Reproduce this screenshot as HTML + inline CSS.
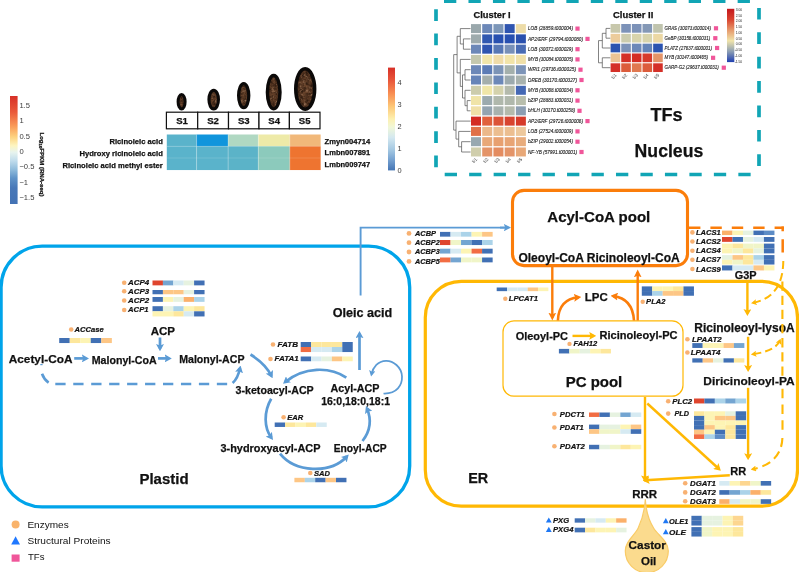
<!DOCTYPE html>
<html><head><meta charset="utf-8"><title>Castor oil biosynthesis pathway</title>
<style>
html,body{margin:0;padding:0;background:#fff;}
body{width:799px;height:572px;overflow:hidden;}
svg{display:block;font-family:"Liberation Sans",Arial,Helvetica,sans-serif;}
.b{font-weight:bold;fill:#111;stroke:#111;stroke-width:0.25px;}
.g{font-weight:bold;font-style:italic;fill:#111;stroke:#111;stroke-width:0.2px;}
.t{font-style:italic;fill:#222;stroke:#222;stroke-width:0.12px;}
.k{fill:#3c3c3c;}
</style></head><body>
<svg width="799" height="572" viewBox="0 0 799 572">
<defs>
<linearGradient id="cbL" x1="0" y1="0" x2="0" y2="1">
<stop offset="0" stop-color="#d73027"/><stop offset="0.15" stop-color="#ea5a3a"/><stop offset="0.28" stop-color="#fa9b58"/><stop offset="0.38" stop-color="#fdd380"/><stop offset="0.46" stop-color="#fdf5c0"/><stop offset="0.52" stop-color="#e8f4ee"/><stop offset="0.6" stop-color="#c0dcec"/><stop offset="0.68" stop-color="#90bcdc"/><stop offset="0.76" stop-color="#5f93c8"/><stop offset="0.85" stop-color="#4878b8"/><stop offset="1" stop-color="#4372b4"/>
</linearGradient>
<linearGradient id="cbR" x1="0" y1="0" x2="0" y2="1">
<stop offset="0" stop-color="#d73027"/><stop offset="0.12" stop-color="#e8553a"/><stop offset="0.25" stop-color="#f88d52"/><stop offset="0.38" stop-color="#fdc878"/><stop offset="0.5" stop-color="#fdf0b0"/><stop offset="0.58" stop-color="#f0f7d8"/><stop offset="0.68" stop-color="#d4e8f0"/><stop offset="0.8" stop-color="#a4c8e2"/><stop offset="0.9" stop-color="#74a0d0"/><stop offset="1" stop-color="#4575b4"/>
</linearGradient>
<linearGradient id="cbN" x1="0" y1="0" x2="0" y2="1">
<stop offset="0" stop-color="#c4161c"/><stop offset="0.2" stop-color="#d9432f"/><stop offset="0.4" stop-color="#e69a6c"/><stop offset="0.6" stop-color="#f0e4aa"/><stop offset="0.8" stop-color="#8c9eb4"/><stop offset="1" stop-color="#1f3fb0"/>
</linearGradient>
<radialGradient id="seed" cx="0.5" cy="0.5" r="0.6">
<stop offset="0" stop-color="#6a452c"/><stop offset="0.75" stop-color="#553521"/><stop offset="1" stop-color="#2a180d"/>
</radialGradient>
<filter id="tex" x="0" y="0" width="1" height="1" color-interpolation-filters="sRGB">
<feTurbulence type="fractalNoise" baseFrequency="0.32" numOctaves="3" seed="7" result="n"/>
<feColorMatrix in="n" type="matrix" values="0 0 0 0 0.16  0 0 0 0 0.09  0 0 0 0 0.05  2.4 0 0 0 -0.95" result="dk"/>
<feColorMatrix in="n" type="matrix" values="0 0 0 0 0.62  0 0 0 0 0.47  0 0 0 0 0.36  0 2.6 0 0 -1.45" result="lt"/>
<feComposite in="dk" in2="SourceGraphic" operator="in" result="dkc"/>
<feComposite in="lt" in2="SourceGraphic" operator="in" result="ltc"/>
<feMerge><feMergeNode in="SourceGraphic"/><feMergeNode in="dkc"/><feMergeNode in="ltc"/></feMerge>
</filter>

<marker id="mb" markerUnits="userSpaceOnUse" viewBox="0 0 7.2 8" refX="4.5" refY="4.0" markerWidth="7.2" markerHeight="8" orient="auto-start-reverse"><path d="M0 0L7.2 4.0L0 8L1.44 4.0Z" fill="#5b9bd5"/></marker>
<marker id="mbs" markerUnits="userSpaceOnUse" viewBox="0 0 6 6.4" refX="3.8" refY="3.2" markerWidth="6" markerHeight="6.4" orient="auto-start-reverse"><path d="M0 0L6 3.2L0 6.4L1.20 3.2Z" fill="#5b9bd5"/></marker>
<marker id="mbl" markerUnits="userSpaceOnUse" viewBox="0 0 7.2 7.4" refX="4.6" refY="3.7" markerWidth="7.2" markerHeight="7.4" orient="auto-start-reverse"><path d="M0 0L7.2 3.7L0 7.4L1.44 3.7Z" fill="#5b9bd5"/></marker>
<marker id="mo" markerUnits="userSpaceOnUse" viewBox="0 0 7.8 7.8" refX="5" refY="3.9" markerWidth="7.8" markerHeight="7.8" orient="auto-start-reverse"><path d="M0 0L7.8 3.9L0 7.8L1.56 3.9Z" fill="#fb7d0a"/></marker>
<marker id="mo2" markerUnits="userSpaceOnUse" viewBox="0 0 7.4 8" refX="4.6" refY="4.0" markerWidth="7.4" markerHeight="8" orient="auto-start-reverse"><path d="M0 0L7.4 4.0L0 8L1.48 4.0Z" fill="#fb7d0a"/></marker>
<marker id="my" markerUnits="userSpaceOnUse" viewBox="0 0 6.9 7.9" refX="4.4" refY="3.95" markerWidth="6.9" markerHeight="7.9" orient="auto-start-reverse"><path d="M0 0L6.9 3.95L0 7.9L1.38 3.95Z" fill="#ffb804"/></marker>
<marker id="mys" markerUnits="userSpaceOnUse" viewBox="0 0 5.6 6" refX="3.6" refY="3.0" markerWidth="5.6" markerHeight="6" orient="auto-start-reverse"><path d="M0 0L5.6 3.0L0 6L1.12 3.0Z" fill="#ffb804"/></marker>
</defs>
<rect width="799" height="572" fill="#ffffff"/>

<rect x="10" y="96" width="7.6" height="108" fill="url(#cbL)"/>
<text class="k" x="19.4" y="107.6" font-size="7.6">1.5</text>
<text class="k" x="19.4" y="123.1" font-size="7.6">1</text>
<text class="k" x="19.4" y="138.6" font-size="7.6">0.5</text>
<text class="k" x="19.4" y="153.6" font-size="7.6">0</text>
<text class="k" x="19.4" y="169.1" font-size="7.6">−0.5</text>
<text class="k" x="19.4" y="184.6" font-size="7.6">−1</text>
<text class="k" x="19.4" y="199.6" font-size="7.6">−1.5</text>
<text class="b" transform="translate(40.3,132.5) rotate(90)" font-size="4.9" textLength="64" lengthAdjust="spacingAndGlyphs" style="fill:#222">Log<tspan font-size="3.4" dy="1.2">10</tspan><tspan dy="-1.2">FPKM (RNA-seq)</tspan></text>
<ellipse cx="181.6" cy="101.7" rx="3.50" ry="7.20" fill="url(#seed)" filter="url(#tex)"/>
<ellipse cx="181.6" cy="101.7" rx="3.50" ry="7.20" fill="none" stroke="#0b0908" stroke-width="3.0"/>
<ellipse cx="213.7" cy="99.6" rx="4.75" ry="9.30" fill="url(#seed)" filter="url(#tex)"/>
<ellipse cx="213.7" cy="99.6" rx="4.75" ry="9.30" fill="none" stroke="#0b0908" stroke-width="3.1"/>
<ellipse cx="243.7" cy="95.6" rx="5.10" ry="12.10" fill="url(#seed)" filter="url(#tex)"/>
<ellipse cx="243.7" cy="95.6" rx="5.10" ry="12.10" fill="none" stroke="#0b0908" stroke-width="3.2"/>
<ellipse cx="273.7" cy="92.2" rx="6.30" ry="16.70" fill="url(#seed)" filter="url(#tex)"/>
<ellipse cx="273.7" cy="92.2" rx="6.30" ry="16.70" fill="none" stroke="#0b0908" stroke-width="3.4"/>
<ellipse cx="305.2" cy="89" rx="9.40" ry="20.20" fill="url(#seed)" filter="url(#tex)"/>
<ellipse cx="305.2" cy="89" rx="9.40" ry="20.20" fill="none" stroke="#0b0908" stroke-width="3.6"/>
<g fill="#fff" stroke="#111" stroke-width="1.2">
<rect x="166.4" y="112.2" width="31.3" height="16.6"/>
<rect x="197.7" y="112.2" width="30.8" height="16.6"/>
<rect x="228.5" y="112.2" width="30.5" height="16.6"/>
<rect x="259" y="112.2" width="30.4" height="16.6"/>
<rect x="289.4" y="112.2" width="30.6" height="16.6"/>
</g>
<text class="b" x="182.1" y="124.1" font-size="9.6" text-anchor="middle">S1</text>
<text class="b" x="213.1" y="124.1" font-size="9.6" text-anchor="middle">S2</text>
<text class="b" x="243.8" y="124.1" font-size="9.6" text-anchor="middle">S3</text>
<text class="b" x="274.2" y="124.1" font-size="9.6" text-anchor="middle">S4</text>
<text class="b" x="304.7" y="124.1" font-size="9.6" text-anchor="middle">S5</text>
<rect x="166.8" y="134.5" width="29.85" height="11.80" fill="#5ab3cb"/>
<rect x="196.6" y="134.5" width="31.55" height="11.80" fill="#1095dc"/>
<rect x="228.1" y="134.5" width="30.25" height="11.80" fill="#b0d8c2"/>
<rect x="258.3" y="134.5" width="31.55" height="11.80" fill="#eeeaa8"/>
<rect x="289.8" y="134.5" width="30.85" height="11.80" fill="#f1b87a"/>
<rect x="166.8" y="146.25" width="29.85" height="11.80" fill="#5ab3cb"/>
<rect x="196.6" y="146.25" width="31.55" height="11.80" fill="#5ab3cb"/>
<rect x="228.1" y="146.25" width="30.25" height="11.80" fill="#5bb3c8"/>
<rect x="258.3" y="146.25" width="31.55" height="11.80" fill="#8ccabc"/>
<rect x="289.8" y="146.25" width="30.85" height="11.80" fill="#ee7430"/>
<rect x="166.8" y="158" width="29.85" height="12.05" fill="#5ab3cb"/>
<rect x="196.6" y="158" width="31.55" height="12.05" fill="#5ab3cb"/>
<rect x="228.1" y="158" width="30.25" height="12.05" fill="#5bb3c8"/>
<rect x="258.3" y="158" width="31.55" height="12.05" fill="#8ccabc"/>
<rect x="289.8" y="158" width="30.85" height="12.05" fill="#ee7430"/>
<g stroke="#ffffff" stroke-opacity="0.4" stroke-width="0.7">
<line x1="166.8" x2="320.6" y1="146.25" y2="146.25" stroke-opacity="0.2"/>
<line x1="166.8" x2="320.6" y1="158" y2="158" stroke-opacity="0.2"/>
<line x1="196.6" x2="196.6" y1="134.5" y2="170"/>
<line x1="228.1" x2="228.1" y1="134.5" y2="170"/>
<line x1="258.3" x2="258.3" y1="134.5" y2="170"/>
<line x1="289.8" x2="289.8" y1="134.5" y2="170"/>
</g>
<text class="b" x="109.5" y="144.0" font-size="7.7" textLength="53.3" lengthAdjust="spacingAndGlyphs">Ricinoleic acid</text>
<text class="b" x="79.5" y="156.0" font-size="7.7" textLength="83.3" lengthAdjust="spacingAndGlyphs">Hydroxy ricinoleic acid</text>
<text class="b" x="62.5" y="167.8" font-size="7.7" textLength="100.3" lengthAdjust="spacingAndGlyphs">Ricinoleic acid methyl ester</text>
<text class="b" x="324.6" y="144.2" font-size="7.5" textLength="45.6" lengthAdjust="spacingAndGlyphs">Zmyn004714</text>
<text class="b" x="324.6" y="155.2" font-size="7.5" textLength="45.6" lengthAdjust="spacingAndGlyphs">Lmbn007891</text>
<text class="b" x="324.6" y="167.2" font-size="7.5" textLength="45.6" lengthAdjust="spacingAndGlyphs">Lmbn009747</text>
<rect x="388" y="67.6" width="7" height="102.8" fill="url(#cbR)"/>
<text class="k" x="397.5" y="84.5" font-size="7.4">4</text>
<text class="k" x="397.5" y="107.0" font-size="7.4">3</text>
<text class="k" x="397.5" y="129.29999999999998" font-size="7.4">2</text>
<text class="k" x="397.5" y="151.29999999999998" font-size="7.4">1</text>
<text class="k" x="397.5" y="173.29999999999998" font-size="7.4">0</text>
<g stroke="#11a5b5" stroke-width="3.5" fill="none">
<path d="M444 1.2H760" stroke-dasharray="12.3 12.17"/>
<path d="M444.7 174.5H760" stroke-dasharray="12.3 12.17"/>
<path d="M436 9.2V170" stroke-dasharray="11.7 12.7" stroke-width="3.7"/>
<path d="M759 7.9V170" stroke-dasharray="11.7 12.7" stroke-width="3.7"/>
</g>
<text class="b" x="473.5" y="18.4" font-size="9.2" textLength="37.2" lengthAdjust="spacingAndGlyphs">Cluster I</text>
<text class="b" x="613" y="18.4" font-size="9.2" textLength="40.3" lengthAdjust="spacingAndGlyphs">Cluster II</text>
<text class="b" x="650.4" y="121.2" font-size="18.4" textLength="32.2" lengthAdjust="spacingAndGlyphs">TFs</text>
<text class="b" x="634.6" y="156.8" font-size="17.7" textLength="68.7" lengthAdjust="spacingAndGlyphs">Nucleus</text>
<rect x="471.00" y="24.10" width="10.0" height="9.0" fill="#9aa8ac"/>
<rect x="482.22" y="24.10" width="10.0" height="9.0" fill="#6c88b8"/>
<rect x="493.44" y="24.10" width="10.0" height="9.0" fill="#7c96b8"/>
<rect x="504.66" y="24.10" width="10.0" height="9.0" fill="#2f55b0"/>
<rect x="515.88" y="24.10" width="10.0" height="9.0" fill="#eddca8"/>
<rect x="471.00" y="34.38" width="10.0" height="9.0" fill="#9eabad"/>
<rect x="482.22" y="34.38" width="10.0" height="9.0" fill="#3058b0"/>
<rect x="493.44" y="34.38" width="10.0" height="9.0" fill="#2850b0"/>
<rect x="504.66" y="34.38" width="10.0" height="9.0" fill="#2850b0"/>
<rect x="515.88" y="34.38" width="10.0" height="9.0" fill="#2a50ae"/>
<rect x="471.00" y="44.66" width="10.0" height="9.0" fill="#6c88b8"/>
<rect x="482.22" y="44.66" width="10.0" height="9.0" fill="#2f55b0"/>
<rect x="493.44" y="44.66" width="10.0" height="9.0" fill="#5878b5"/>
<rect x="504.66" y="44.66" width="10.0" height="9.0" fill="#7890b8"/>
<rect x="515.88" y="44.66" width="10.0" height="9.0" fill="#4a6cb4"/>
<rect x="471.00" y="54.94" width="10.0" height="9.0" fill="#c4c8ae"/>
<rect x="482.22" y="54.94" width="10.0" height="9.0" fill="#f2e6aa"/>
<rect x="493.44" y="54.94" width="10.0" height="9.0" fill="#f0dca8"/>
<rect x="504.66" y="54.94" width="10.0" height="9.0" fill="#f2e4a8"/>
<rect x="515.88" y="54.94" width="10.0" height="9.0" fill="#f0e0a8"/>
<rect x="471.00" y="65.22" width="10.0" height="9.0" fill="#6c88b8"/>
<rect x="482.22" y="65.22" width="10.0" height="9.0" fill="#5c7cb6"/>
<rect x="493.44" y="65.22" width="10.0" height="9.0" fill="#7c94b6"/>
<rect x="504.66" y="65.22" width="10.0" height="9.0" fill="#a4b0ac"/>
<rect x="515.88" y="65.22" width="10.0" height="9.0" fill="#7c94b8"/>
<rect x="471.00" y="75.50" width="10.0" height="9.0" fill="#6684b8"/>
<rect x="482.22" y="75.50" width="10.0" height="9.0" fill="#a4aeac"/>
<rect x="493.44" y="75.50" width="10.0" height="9.0" fill="#6c88b8"/>
<rect x="504.66" y="75.50" width="10.0" height="9.0" fill="#9caaae"/>
<rect x="515.88" y="75.50" width="10.0" height="9.0" fill="#a8b2ae"/>
<rect x="471.00" y="85.78" width="10.0" height="9.0" fill="#ccccac"/>
<rect x="482.22" y="85.78" width="10.0" height="9.0" fill="#f0e6a8"/>
<rect x="493.44" y="85.78" width="10.0" height="9.0" fill="#d4d2ac"/>
<rect x="504.66" y="85.78" width="10.0" height="9.0" fill="#b4baac"/>
<rect x="515.88" y="85.78" width="10.0" height="9.0" fill="#4468b4"/>
<rect x="471.00" y="96.06" width="10.0" height="9.0" fill="#f0e4a8"/>
<rect x="482.22" y="96.06" width="10.0" height="9.0" fill="#9caaae"/>
<rect x="493.44" y="96.06" width="10.0" height="9.0" fill="#b0b8ac"/>
<rect x="504.66" y="96.06" width="10.0" height="9.0" fill="#b0b8ac"/>
<rect x="515.88" y="96.06" width="10.0" height="9.0" fill="#b8beac"/>
<rect x="471.00" y="106.34" width="10.0" height="9.0" fill="#f0e0a8"/>
<rect x="482.22" y="106.34" width="10.0" height="9.0" fill="#94a4b0"/>
<rect x="493.44" y="106.34" width="10.0" height="9.0" fill="#a8b2ae"/>
<rect x="504.66" y="106.34" width="10.0" height="9.0" fill="#b4baac"/>
<rect x="515.88" y="106.34" width="10.0" height="9.0" fill="#8c9eb2"/>
<rect x="471.00" y="116.62" width="10.0" height="9.0" fill="#d42a22"/>
<rect x="482.22" y="116.62" width="10.0" height="9.0" fill="#e0603c"/>
<rect x="493.44" y="116.62" width="10.0" height="9.0" fill="#dc5438"/>
<rect x="504.66" y="116.62" width="10.0" height="9.0" fill="#d84430"/>
<rect x="515.88" y="116.62" width="10.0" height="9.0" fill="#d63a2a"/>
<rect x="471.00" y="126.90" width="10.0" height="9.0" fill="#e07048"/>
<rect x="482.22" y="126.90" width="10.0" height="9.0" fill="#ebb88a"/>
<rect x="493.44" y="126.90" width="10.0" height="9.0" fill="#ecbe90"/>
<rect x="504.66" y="126.90" width="10.0" height="9.0" fill="#ecbe90"/>
<rect x="515.88" y="126.90" width="10.0" height="9.0" fill="#edc89c"/>
<rect x="471.00" y="137.18" width="10.0" height="9.0" fill="#98a8b0"/>
<rect x="482.22" y="137.18" width="10.0" height="9.0" fill="#e8a878"/>
<rect x="493.44" y="137.18" width="10.0" height="9.0" fill="#e8a070"/>
<rect x="504.66" y="137.18" width="10.0" height="9.0" fill="#e8a474"/>
<rect x="515.88" y="137.18" width="10.0" height="9.0" fill="#e8ac7c"/>
<rect x="471.00" y="147.46" width="10.0" height="9.0" fill="#d0ceac"/>
<rect x="482.22" y="147.46" width="10.0" height="9.0" fill="#e49468"/>
<rect x="493.44" y="147.46" width="10.0" height="9.0" fill="#e48c60"/>
<rect x="504.66" y="147.46" width="10.0" height="9.0" fill="#e49468"/>
<rect x="515.88" y="147.46" width="10.0" height="9.0" fill="#e8a878"/>
<text class="t" x="528" y="30.2" font-size="5" textLength="45" lengthAdjust="spacingAndGlyphs">LOB (28859.t000004)</text>
<rect x="575.4" y="26.5" width="4.2" height="4.2" fill="#f0569a"/>
<text class="t" x="528" y="40.5" font-size="5" textLength="55" lengthAdjust="spacingAndGlyphs">AP2/ERF (29794.t000080)</text>
<rect x="585.4" y="36.8" width="4.2" height="4.2" fill="#f0569a"/>
<text class="t" x="528" y="50.8" font-size="5" textLength="45" lengthAdjust="spacingAndGlyphs">LOB (30072.t000029)</text>
<rect x="575.4" y="47.1" width="4.2" height="4.2" fill="#f0569a"/>
<text class="t" x="528" y="61.0" font-size="5" textLength="45" lengthAdjust="spacingAndGlyphs">MYB (30084.t000005)</text>
<rect x="575.4" y="57.3" width="4.2" height="4.2" fill="#f0569a"/>
<text class="t" x="528" y="71.3" font-size="5" textLength="48" lengthAdjust="spacingAndGlyphs">WRI1 (29736.t000025)</text>
<rect x="578.4" y="67.6" width="4.2" height="4.2" fill="#f0569a"/>
<text class="t" x="528" y="81.6" font-size="5" textLength="49" lengthAdjust="spacingAndGlyphs">DREB (30170.t000327)</text>
<rect x="579.4" y="77.9" width="4.2" height="4.2" fill="#f0569a"/>
<text class="t" x="528" y="91.9" font-size="5" textLength="45" lengthAdjust="spacingAndGlyphs">MYB (30068.t000034)</text>
<rect x="575.4" y="88.2" width="4.2" height="4.2" fill="#f0569a"/>
<text class="t" x="528" y="102.2" font-size="5" textLength="45" lengthAdjust="spacingAndGlyphs">bZIP (28883.t000031)</text>
<rect x="575.4" y="98.5" width="4.2" height="4.2" fill="#f0569a"/>
<text class="t" x="528" y="112.4" font-size="5" textLength="47" lengthAdjust="spacingAndGlyphs">bHLH (30170.t000258)</text>
<rect x="577.4" y="108.7" width="4.2" height="4.2" fill="#f0569a"/>
<text class="t" x="528" y="122.7" font-size="5" textLength="55" lengthAdjust="spacingAndGlyphs">AP2/ERF (29726.t000006)</text>
<rect x="585.4" y="119.0" width="4.2" height="4.2" fill="#f0569a"/>
<text class="t" x="528" y="133.0" font-size="5" textLength="45" lengthAdjust="spacingAndGlyphs">LOB (27524.t000009)</text>
<rect x="575.4" y="129.3" width="4.2" height="4.2" fill="#f0569a"/>
<text class="t" x="528" y="143.3" font-size="5" textLength="45" lengthAdjust="spacingAndGlyphs">bZIP (29002.t000054)</text>
<rect x="575.4" y="139.6" width="4.2" height="4.2" fill="#f0569a"/>
<text class="t" x="528" y="153.6" font-size="5" textLength="49" lengthAdjust="spacingAndGlyphs">NF-YB (57991.t000001)</text>
<rect x="579.4" y="149.9" width="4.2" height="4.2" fill="#f0569a"/>
<text class="k" transform="translate(477.6,159.6) rotate(-45)" font-size="4.6" text-anchor="end">S1</text>
<text class="k" transform="translate(488.8,159.6) rotate(-45)" font-size="4.6" text-anchor="end">S2</text>
<text class="k" transform="translate(500.0,159.6) rotate(-45)" font-size="4.6" text-anchor="end">S3</text>
<text class="k" transform="translate(511.3,159.6) rotate(-45)" font-size="4.6" text-anchor="end">S4</text>
<text class="k" transform="translate(522.5,159.6) rotate(-45)" font-size="4.6" text-anchor="end">S5</text>
<path d="M463.4 38.9H470.6M463.4 49.2H470.6M463.4 38.9V49.2M460.3 28.6H470.6M460.3 44.0H463.4M460.3 28.6V44.0M457.1 36.3H460.3M465.0 69.7H470.6M465.0 80.0H470.6M465.0 69.7V80.0M467.2 100.6H470.6M467.2 110.8H470.6M467.2 100.6V110.8M465.0 90.3H470.6M465.0 105.7H467.2M465.0 90.3V105.7M462.5 74.9H465.0M462.5 98.0H465.0M462.5 74.9V98.0M460.3 59.4H470.6M460.3 86.4H462.5M460.3 59.4V86.4M457.1 72.9H460.3M457.1 36.3V72.9M453.7 54.6H457.1M461.6 141.7H470.6M461.6 152.0H470.6M461.6 141.7V152.0M458.7 131.4H470.6M458.7 146.8H461.6M458.7 131.4V146.8M456.0 121.1H470.6M456.0 139.1H458.7M456.0 121.1V139.1M453.7 130.1H456.0M453.7 54.6V130.1" fill="none" stroke="#5a5a5a" stroke-width="0.75"/>
<rect x="610.60" y="24.00" width="9.6" height="8.7" fill="#c8c8ac"/>
<rect x="621.24" y="24.00" width="9.6" height="8.7" fill="#7c92b8"/>
<rect x="631.88" y="24.00" width="9.6" height="8.7" fill="#7c92b8"/>
<rect x="642.52" y="24.00" width="9.6" height="8.7" fill="#8498b6"/>
<rect x="653.16" y="24.00" width="9.6" height="8.7" fill="#c0c4ae"/>
<rect x="610.60" y="33.83" width="9.6" height="8.7" fill="#eccc9c"/>
<rect x="621.24" y="33.83" width="9.6" height="8.7" fill="#ccccae"/>
<rect x="631.88" y="33.83" width="9.6" height="8.7" fill="#d8d4ac"/>
<rect x="642.52" y="33.83" width="9.6" height="8.7" fill="#d8d4ac"/>
<rect x="653.16" y="33.83" width="9.6" height="8.7" fill="#ecd8a4"/>
<rect x="610.60" y="43.66" width="9.6" height="8.7" fill="#2c54b0"/>
<rect x="621.24" y="43.66" width="9.6" height="8.7" fill="#7c92b8"/>
<rect x="631.88" y="43.66" width="9.6" height="8.7" fill="#6c88b8"/>
<rect x="642.52" y="43.66" width="9.6" height="8.7" fill="#6484b8"/>
<rect x="653.16" y="43.66" width="9.6" height="8.7" fill="#2c54b0"/>
<rect x="610.60" y="53.49" width="9.6" height="8.7" fill="#ecc494"/>
<rect x="621.24" y="53.49" width="9.6" height="8.7" fill="#d43028"/>
<rect x="631.88" y="53.49" width="9.6" height="8.7" fill="#d42c24"/>
<rect x="642.52" y="53.49" width="9.6" height="8.7" fill="#d63a2c"/>
<rect x="653.16" y="53.49" width="9.6" height="8.7" fill="#e49468"/>
<rect x="610.60" y="63.32" width="9.6" height="8.7" fill="#d43028"/>
<rect x="621.24" y="63.32" width="9.6" height="8.7" fill="#dc5c3c"/>
<rect x="631.88" y="63.32" width="9.6" height="8.7" fill="#e07850"/>
<rect x="642.52" y="63.32" width="9.6" height="8.7" fill="#dc5c3c"/>
<rect x="653.16" y="63.32" width="9.6" height="8.7" fill="#d43028"/>
<text class="t" x="664.5" y="30.0" font-size="5" textLength="46.4" lengthAdjust="spacingAndGlyphs">GRAS (30073.t000014)</text>
<rect x="713.9" y="26.2" width="4.2" height="4.2" fill="#f0569a"/>
<text class="t" x="664.5" y="39.8" font-size="5" textLength="45.7" lengthAdjust="spacingAndGlyphs">GeBP (30156.t000031)</text>
<rect x="713.2" y="36.1" width="4.2" height="4.2" fill="#f0569a"/>
<text class="t" x="664.5" y="49.6" font-size="5" textLength="47.5" lengthAdjust="spacingAndGlyphs">PLATZ (27637.t000001)</text>
<rect x="715.0" y="45.9" width="4.2" height="4.2" fill="#f0569a"/>
<text class="t" x="664.5" y="59.4" font-size="5" textLength="43.5" lengthAdjust="spacingAndGlyphs">MYB (30147.t000465)</text>
<rect x="711.0" y="55.7" width="4.2" height="4.2" fill="#f0569a"/>
<text class="t" x="664.5" y="69.3" font-size="5" textLength="54.2" lengthAdjust="spacingAndGlyphs">GARP-G2 (29637.t000031)</text>
<rect x="721.7" y="65.6" width="4.2" height="4.2" fill="#f0569a"/>
<text class="k" transform="translate(617.0,75.4) rotate(-45)" font-size="4.6" text-anchor="end">S1</text>
<text class="k" transform="translate(627.6,75.4) rotate(-45)" font-size="4.6" text-anchor="end">S2</text>
<text class="k" transform="translate(638.3,75.4) rotate(-45)" font-size="4.6" text-anchor="end">S3</text>
<text class="k" transform="translate(648.9,75.4) rotate(-45)" font-size="4.6" text-anchor="end">S4</text>
<text class="k" transform="translate(659.6,75.4) rotate(-45)" font-size="4.6" text-anchor="end">S5</text>
<path d="M606.0 28.4H610.3M606.0 38.2H610.3M606.0 28.4V38.2M602.3 48.0H610.3M602.3 33.3H606.0M602.3 33.3V48.0M602.3 57.8H610.3M602.3 67.7H610.3M602.3 57.8V67.7M598.5 40.6H602.3M598.5 62.8H602.3M598.5 40.6V62.8" fill="none" stroke="#5a5a5a" stroke-width="0.75"/>
<rect x="727" y="8.8" width="7.3" height="53.3" fill="url(#cbN)"/>
<text class="k" x="742.2" y="10.7" font-size="3.3" text-anchor="end" style="fill:#222">3.00</text>
<text class="k" x="742.2" y="16.5" font-size="3.3" text-anchor="end" style="fill:#222">2.50</text>
<text class="k" x="742.2" y="22.3" font-size="3.3" text-anchor="end" style="fill:#222">2.00</text>
<text class="k" x="742.2" y="28.1" font-size="3.3" text-anchor="end" style="fill:#222">1.50</text>
<text class="k" x="742.2" y="33.9" font-size="3.3" text-anchor="end" style="fill:#222">1.00</text>
<text class="k" x="742.2" y="39.6" font-size="3.3" text-anchor="end" style="fill:#222">0.50</text>
<text class="k" x="742.2" y="45.4" font-size="3.3" text-anchor="end" style="fill:#222">0.00</text>
<text class="k" x="742.2" y="51.2" font-size="3.3" text-anchor="end" style="fill:#222">-0.50</text>
<text class="k" x="742.2" y="57.0" font-size="3.3" text-anchor="end" style="fill:#222">-1.00</text>
<text class="k" x="742.2" y="62.8" font-size="3.3" text-anchor="end" style="fill:#222">-1.50</text>
<rect x="1.1" y="246.2" width="408.6" height="260.7" rx="41" ry="41" fill="none" stroke="#00a4ea" stroke-width="3.3"/>
<rect x="425.3" y="281.4" width="372.2" height="224.7" rx="36" ry="36" fill="none" stroke="#ffb804" stroke-width="3.2"/>
<rect x="503" y="320.9" width="180" height="75.3" rx="11" ry="11" fill="#fff" stroke="#ffb804" stroke-width="1.2"/>
<rect x="512.5" y="190.4" width="175" height="75.2" rx="11.5" ry="11.5" fill="#fff" stroke="#fb7d0a" stroke-width="3.1"/>
<text class="b" x="547.3" y="221.8" font-size="15" textLength="103.0" lengthAdjust="spacingAndGlyphs">Acyl-CoA pool</text>
<text class="b" x="518.4" y="262.0" font-size="12" textLength="161.3" lengthAdjust="spacingAndGlyphs">Oleoyl-CoA Ricinoleoyl-CoA</text>
<text class="b" x="8.7" y="362.7" font-size="11.6" textLength="63.8" lengthAdjust="spacingAndGlyphs">Acetyl-CoA</text>
<text class="b" x="91.7" y="363.5" font-size="10.7" textLength="65.0" lengthAdjust="spacingAndGlyphs">Malonyl-CoA</text>
<text class="b" x="179.2" y="363.0" font-size="10.7" textLength="65.3" lengthAdjust="spacingAndGlyphs">Malonyl-ACP</text>
<text class="b" x="150.7" y="334.5" font-size="11.5" textLength="24.3" lengthAdjust="spacingAndGlyphs">ACP</text>
<text class="b" x="235.5" y="393.6" font-size="10.7" textLength="78.2" lengthAdjust="spacingAndGlyphs">3-ketoacyl-ACP</text>
<text class="b" x="330.5" y="392.2" font-size="10.7" textLength="49.0" lengthAdjust="spacingAndGlyphs">Acyl-ACP</text>
<text class="b" x="321.2" y="405.0" font-size="10.5" textLength="68.8" lengthAdjust="spacingAndGlyphs">16:0,18:0,18:1</text>
<text class="b" x="220.5" y="451.7" font-size="10.8" textLength="100.0" lengthAdjust="spacingAndGlyphs">3-hydroxyacyl-ACP</text>
<text class="b" x="333.7" y="451.7" font-size="10.4" textLength="53.0" lengthAdjust="spacingAndGlyphs">Enoyl-ACP</text>
<text class="b" x="332.7" y="316.6" font-size="12.5" textLength="59.5" lengthAdjust="spacingAndGlyphs">Oleic acid</text>
<text class="b" x="139.4" y="483.8" font-size="15.2" textLength="49.2" lengthAdjust="spacingAndGlyphs">Plastid</text>
<text class="b" x="584.8" y="300.7" font-size="11.5" textLength="22.9" lengthAdjust="spacingAndGlyphs">LPC</text>
<text class="b" x="515.7" y="340.0" font-size="11" textLength="52.3" lengthAdjust="spacingAndGlyphs">Oleoyl-PC</text>
<text class="b" x="599.5" y="339.3" font-size="11" textLength="78.0" lengthAdjust="spacingAndGlyphs">Ricinoleoyl-PC</text>
<text class="b" x="565.7" y="387.0" font-size="15" textLength="56.6" lengthAdjust="spacingAndGlyphs">PC pool</text>
<text class="b" x="694.3" y="331.9" font-size="12" textLength="100.3" lengthAdjust="spacingAndGlyphs">Ricinoleoyl-lysoA</text>
<text class="b" x="703.3" y="384.5" font-size="11.8" textLength="91.3" lengthAdjust="spacingAndGlyphs">Diricinoleoyl-PA</text>
<text class="b" x="734.7" y="279.4" font-size="10.8" textLength="21.8" lengthAdjust="spacingAndGlyphs">G3P</text>
<text class="b" x="730.2" y="475.2" font-size="11.2" textLength="15.9" lengthAdjust="spacingAndGlyphs">RR</text>
<text class="b" x="632.2" y="497.7" font-size="11.3" textLength="24.9" lengthAdjust="spacingAndGlyphs">RRR</text>
<text class="b" x="468.2" y="482.5" font-size="15.2" textLength="20.0" lengthAdjust="spacingAndGlyphs">ER</text>
<g fill="none" stroke="#5b9bd5" stroke-width="2.7" stroke-linecap="butt">
<path d="M74.2 358.4L86.3 358.4" marker-end="url(#mb)" />
<path d="M158.0 358.4L169.1 358.4" marker-end="url(#mb)" />
<path d="M160.0 337.5L160.0 348.6" marker-end="url(#mb)" />
<path d="M250.5 354.5C261.0 361.0 268.0 369.0 271.4 375.8" marker-end="url(#mb)" />
<path d="M42 373.8Q44 379.5 48.6 382.6" stroke-width="2.6"/>
<path d="M40.3 364.6H42.6" stroke-width="1.2"/>
<path d="M55.3 384H228" stroke-dasharray="10.3 7.65" stroke-width="2.6"/>
<path d="M232.6 383.0C236.5 379.5 239.0 373.0 240.0 368.2" marker-end="url(#mb)" stroke-width="2.6"/>
<path d="M346.3 377.6C330.0 366.5 304.0 366.5 285.1 382.1" marker-end="url(#mb)" />
<path d="M271.2 398.7C263.5 412.0 264.0 428.0 271.4 437.8" marker-end="url(#mb)" />
<path d="M280.0 453.7C295.0 472.5 330.0 474.5 346.9 456.5" marker-end="url(#mb)" />
<path d="M362.5 441.0C371.0 430.0 371.0 418.0 367.0 408.5" marker-end="url(#mb)" />
<path d="M359.5 370.0L359.5 333.7" marker-end="url(#mb)" />
<path d="M383.5 393.5C397.0 394.0 402.3 385.0 402.0 376.5C401.6 367.0 393.0 360.6 386.0 360.8C378.0 361.0 373.0 367.0 371.5 374.3" marker-end="url(#mbs)" stroke-width="1.75"/>
<path d="M360.6 295.6V227.6H506" stroke-width="1.9"/>
<path d="M500.0 227.6L508.4 227.6" marker-end="url(#mbl)" stroke-width="1.9"/>
</g>
<g fill="none" stroke="#fb7d0a" stroke-width="2.4">
<path d="M552.3 266.5L552.3 317.7" marker-end="url(#mo)" />
<path d="M637.7 320.5L637.7 272.3" marker-end="url(#mo)" />
<path d="M557.9 320.5C558.5 306.0 566.0 298.5 578.5 297.3" marker-end="url(#mo2)" stroke-width="2.6"/>
<path d="M634.0 320.5C633.0 305.0 625.0 297.5 613.3 296.1" marker-end="url(#mo2)" stroke-width="2.6"/>
<path d="M689 227.8H783.9" stroke-width="2.5" stroke-dasharray="11.4 10"/>
<path d="M782.7 226.6V231.2M782.7 239.2V252.6" stroke-width="2.5"/>
</g>
<g fill="none" stroke="#ffb804" stroke-width="2.4">
<path d="M572.5 335.9L593.6 335.9" marker-end="url(#my)" />
<path d="M747.4 283.0L747.4 313.5" marker-end="url(#my)" />
<path d="M748.1 336.8L748.1 369.5" marker-end="url(#my)" />
<path d="M748.1 387.8L748.1 457.7" marker-end="url(#my)" />
<path d="M645.0 397.0L645.0 479.8" marker-end="url(#my)" />
<path d="M647.3 403.5L719.0 469.0" marker-end="url(#my)" />
<path d="M729.8 475.2L645.1 480.3" marker-end="url(#my)" />
<path d="M782.4 281.5V376" stroke-width="2.1" stroke-dasharray="9.3 4.85"/>
<path d="M782.5 388.7V432" stroke-width="2.1" stroke-dasharray="9.5 6.3"/>
<path d="M782.4 438.0C782.0 452.0 774.0 465.0 752.6 469.2" marker-end="url(#mys)" stroke-width="2.1" stroke-dasharray="9 5"/>
<path d="M783.3 261.0C783.0 282.0 776.0 298.0 753.0 302.9" marker-end="url(#mys)" stroke-width="2" stroke-dasharray="8 4.2"/>
<path d="M779.9 340.5C777.0 348.0 766.0 352.5 752.8 354.2" marker-end="url(#mys)" marker-start="url(#mys)" stroke-width="2" stroke-dasharray="7.5 4"/>
</g>
<path d="M645.3 499.3C646 511 648.6 520 653.6 528C658 535.4 668.3 541 668.3 551C668.3 563 658.7 572.6 646.8 572.6C634.9 572.6 625.3 563 625.3 551C625.3 541 634.6 535.4 638.2 528C642 520 644.6 511 645.3 499.3Z" fill="#fbdb8e" stroke="#f9cb66" stroke-width="1.2"/>
<text class="b" x="628.6" y="549.1" font-size="11.6" textLength="37.3" lengthAdjust="spacingAndGlyphs">Castor</text>
<text class="b" x="641.0" y="565.2" font-size="11.6" textLength="15.3" lengthAdjust="spacingAndGlyphs">Oil</text>
<circle cx="124.2" cy="282.7" r="2.3" fill="#f8b172"/>
<text class="g" x="128.0" y="285.1" font-size="7.9" textLength="21.2" lengthAdjust="spacingAndGlyphs">ACP4</text>
<circle cx="124.2" cy="291.2" r="2.3" fill="#f8b172"/>
<text class="g" x="128.0" y="293.6" font-size="7.9" textLength="21.2" lengthAdjust="spacingAndGlyphs">ACP3</text>
<circle cx="124.2" cy="300.5" r="2.3" fill="#f8b172"/>
<text class="g" x="128.0" y="302.9" font-size="7.9" textLength="21.2" lengthAdjust="spacingAndGlyphs">ACP2</text>
<circle cx="124.2" cy="310.0" r="2.3" fill="#f8b172"/>
<text class="g" x="128.0" y="312.4" font-size="7.9" textLength="20.6" lengthAdjust="spacingAndGlyphs">ACP1</text>
<rect x="152.50" y="280.50" width="10.45" height="4.85" fill="#df452e"/>
<rect x="162.90" y="280.50" width="10.45" height="4.85" fill="#74a5d1"/>
<rect x="173.30" y="280.50" width="10.45" height="4.85" fill="#d6eaf2"/>
<rect x="183.70" y="280.50" width="10.45" height="4.85" fill="#e6f2e0"/>
<rect x="194.10" y="280.50" width="10.45" height="4.85" fill="#4170b4"/>
<rect x="152.50" y="290.00" width="10.45" height="4.25" fill="#4170b4"/>
<rect x="162.90" y="290.00" width="10.45" height="4.25" fill="#fdc685"/>
<rect x="173.30" y="290.00" width="10.45" height="4.25" fill="#fdc685"/>
<rect x="183.70" y="290.00" width="10.45" height="4.25" fill="#e6f2e0"/>
<rect x="194.10" y="290.00" width="10.45" height="4.25" fill="#4170b4"/>
<rect x="152.50" y="297.00" width="10.45" height="4.85" fill="#4170b4"/>
<rect x="162.90" y="297.00" width="10.45" height="4.85" fill="#fdf4b4"/>
<rect x="173.30" y="297.00" width="10.45" height="4.85" fill="#e6f2e0"/>
<rect x="183.70" y="297.00" width="10.45" height="4.85" fill="#fbb06a"/>
<rect x="194.10" y="297.00" width="10.45" height="4.85" fill="#abd3e9"/>
<rect x="152.50" y="306.20" width="10.45" height="5.15" fill="#4170b4"/>
<rect x="162.90" y="306.20" width="10.45" height="5.15" fill="#e6f2e0"/>
<rect x="173.30" y="306.20" width="10.45" height="5.15" fill="#abd3e9"/>
<rect x="183.70" y="306.20" width="10.45" height="5.15" fill="#fdf4b4"/>
<rect x="194.10" y="306.20" width="10.45" height="5.15" fill="#fde79c"/>
<rect x="152.50" y="311.30" width="10.45" height="5.15" fill="#fdf4b4"/>
<rect x="162.90" y="311.30" width="10.45" height="5.15" fill="#fdf4b4"/>
<rect x="173.30" y="311.30" width="10.45" height="5.15" fill="#fde79c"/>
<rect x="183.70" y="311.30" width="10.45" height="5.15" fill="#d6eaf2"/>
<rect x="194.10" y="311.30" width="10.45" height="5.15" fill="#4170b4"/>
<circle cx="71.2" cy="329.5" r="2.3" fill="#f8b172"/>
<text class="g" x="74.5" y="331.7" font-size="7.9" textLength="29.2" lengthAdjust="spacingAndGlyphs">ACCase</text>
<rect x="59.20" y="338.00" width="10.57" height="5.05" fill="#4170b4"/>
<rect x="69.72" y="338.00" width="10.57" height="5.05" fill="#fde79c"/>
<rect x="80.24" y="338.00" width="10.57" height="5.05" fill="#fdf4b4"/>
<rect x="90.76" y="338.00" width="10.57" height="5.05" fill="#4170b4"/>
<rect x="101.28" y="338.00" width="10.57" height="5.05" fill="#fdc685"/>
<circle cx="273.0" cy="344.5" r="2.3" fill="#f8b172"/>
<text class="g" x="277.5" y="346.8" font-size="7.9" textLength="20.5" lengthAdjust="spacingAndGlyphs">FATB</text>
<rect x="300.70" y="342.00" width="10.45" height="5.05" fill="#4170b4"/>
<rect x="311.10" y="342.00" width="10.45" height="5.05" fill="#fde79c"/>
<rect x="321.50" y="342.00" width="10.45" height="5.05" fill="#fde79c"/>
<rect x="331.90" y="342.00" width="10.45" height="5.05" fill="#fde79c"/>
<rect x="342.30" y="342.00" width="10.45" height="5.05" fill="#4170b4"/>
<rect x="300.70" y="347.00" width="10.45" height="5.05" fill="#f26d43"/>
<rect x="311.10" y="347.00" width="10.45" height="5.05" fill="#d6eaf2"/>
<rect x="321.50" y="347.00" width="10.45" height="5.05" fill="#d6eaf2"/>
<rect x="331.90" y="347.00" width="10.45" height="5.05" fill="#abd3e9"/>
<rect x="342.30" y="347.00" width="10.45" height="5.05" fill="#4170b4"/>
<circle cx="270.5" cy="359.0" r="2.3" fill="#f8b172"/>
<text class="g" x="274.5" y="361.3" font-size="7.9" textLength="24.2" lengthAdjust="spacingAndGlyphs">FATA1</text>
<rect x="300.70" y="356.50" width="10.45" height="4.75" fill="#4170b4"/>
<rect x="311.10" y="356.50" width="10.45" height="4.75" fill="#d6eaf2"/>
<rect x="321.50" y="356.50" width="10.45" height="4.75" fill="#e6f2e0"/>
<rect x="331.90" y="356.50" width="10.45" height="4.75" fill="#fdc685"/>
<rect x="342.30" y="356.50" width="10.45" height="4.75" fill="#fdf4b4"/>
<circle cx="283.6" cy="417.2" r="2.3" fill="#f8b172"/>
<text class="g" x="287.3" y="420.0" font-size="7.9" textLength="16.0" lengthAdjust="spacingAndGlyphs">EAR</text>
<rect x="274.70" y="422.50" width="10.45" height="4.45" fill="#4170b4"/>
<rect x="285.10" y="422.50" width="10.45" height="4.45" fill="#fde79c"/>
<rect x="295.50" y="422.50" width="10.45" height="4.45" fill="#fdf4b4"/>
<rect x="305.90" y="422.50" width="10.45" height="4.45" fill="#fde79c"/>
<rect x="316.30" y="422.50" width="10.45" height="4.45" fill="#d6eaf2"/>
<circle cx="310.3" cy="473.0" r="2.3" fill="#f8b172"/>
<text class="g" x="314.0" y="475.5" font-size="7.9" textLength="16.0" lengthAdjust="spacingAndGlyphs">SAD</text>
<rect x="294.40" y="477.80" width="10.45" height="4.45" fill="#fdc685"/>
<rect x="304.80" y="477.80" width="10.45" height="4.45" fill="#abd3e9"/>
<rect x="315.20" y="477.80" width="10.45" height="4.45" fill="#4170b4"/>
<rect x="325.60" y="477.80" width="10.45" height="4.45" fill="#fdc685"/>
<rect x="336.00" y="477.80" width="10.45" height="4.45" fill="#4170b4"/>
<circle cx="409.0" cy="233.4" r="2.4" fill="#f8b172"/>
<text class="g" x="415.0" y="235.8" font-size="7.9" textLength="21.0" lengthAdjust="spacingAndGlyphs">ACBP</text>
<circle cx="409.0" cy="242.7" r="2.4" fill="#f8b172"/>
<text class="g" x="415.0" y="245.1" font-size="7.9" textLength="24.7" lengthAdjust="spacingAndGlyphs">ACBP2</text>
<circle cx="409.0" cy="252.0" r="2.4" fill="#f8b172"/>
<text class="g" x="415.0" y="254.4" font-size="7.9" textLength="24.7" lengthAdjust="spacingAndGlyphs">ACBP3</text>
<circle cx="409.0" cy="261.4" r="2.4" fill="#f8b172"/>
<text class="g" x="415.0" y="263.8" font-size="7.9" textLength="24.7" lengthAdjust="spacingAndGlyphs">ACBP5</text>
<rect x="440.00" y="231.90" width="10.57" height="4.75" fill="#4170b4"/>
<rect x="450.52" y="231.90" width="10.57" height="4.75" fill="#d6eaf2"/>
<rect x="461.04" y="231.90" width="10.57" height="4.75" fill="#abd3e9"/>
<rect x="471.56" y="231.90" width="10.57" height="4.75" fill="#fdf4b4"/>
<rect x="482.08" y="231.90" width="10.57" height="4.75" fill="#fdc685"/>
<rect x="440.00" y="240.00" width="10.57" height="5.05" fill="#df452e"/>
<rect x="450.52" y="240.00" width="10.57" height="5.05" fill="#f0f5c8"/>
<rect x="461.04" y="240.00" width="10.57" height="5.05" fill="#74a5d1"/>
<rect x="471.56" y="240.00" width="10.57" height="5.05" fill="#4170b4"/>
<rect x="482.08" y="240.00" width="10.57" height="5.05" fill="#abd3e9"/>
<rect x="440.00" y="248.70" width="10.57" height="4.85" fill="#74a5d1"/>
<rect x="450.52" y="248.70" width="10.57" height="4.85" fill="#d6eaf2"/>
<rect x="461.04" y="248.70" width="10.57" height="4.85" fill="#fdf4b4"/>
<rect x="471.56" y="248.70" width="10.57" height="4.85" fill="#f26d43"/>
<rect x="482.08" y="248.70" width="10.57" height="4.85" fill="#4170b4"/>
<rect x="440.00" y="257.50" width="10.57" height="4.85" fill="#f26d43"/>
<rect x="450.52" y="257.50" width="10.57" height="4.85" fill="#74a5d1"/>
<rect x="461.04" y="257.50" width="10.57" height="4.85" fill="#f0f5c8"/>
<rect x="471.56" y="257.50" width="10.57" height="4.85" fill="#f0f5c8"/>
<rect x="482.08" y="257.50" width="10.57" height="4.85" fill="#4170b4"/>
<circle cx="692.4" cy="232.4" r="2.3" fill="#f8b172"/>
<text class="g" x="695.9" y="234.9" font-size="7.9" textLength="24.8" lengthAdjust="spacingAndGlyphs">LACS1</text>
<circle cx="692.4" cy="241.5" r="2.3" fill="#f8b172"/>
<text class="g" x="695.9" y="244.0" font-size="7.9" textLength="24.8" lengthAdjust="spacingAndGlyphs">LACS2</text>
<circle cx="692.4" cy="250.7" r="2.3" fill="#f8b172"/>
<text class="g" x="695.9" y="253.2" font-size="7.9" textLength="24.8" lengthAdjust="spacingAndGlyphs">LACS4</text>
<circle cx="692.4" cy="259.8" r="2.3" fill="#f8b172"/>
<text class="g" x="695.9" y="262.3" font-size="7.9" textLength="24.8" lengthAdjust="spacingAndGlyphs">LACS7</text>
<circle cx="692.4" cy="269.0" r="2.3" fill="#f8b172"/>
<text class="g" x="695.9" y="271.5" font-size="7.9" textLength="24.8" lengthAdjust="spacingAndGlyphs">LACS9</text>
<rect x="722.00" y="230.60" width="10.53" height="4.45" fill="#fbb06a"/>
<rect x="732.48" y="230.60" width="10.53" height="4.45" fill="#fdf4b4"/>
<rect x="742.96" y="230.60" width="10.53" height="4.45" fill="#e6f2e0"/>
<rect x="753.44" y="230.60" width="10.53" height="4.45" fill="#4170b4"/>
<rect x="763.92" y="230.60" width="10.53" height="4.45" fill="#5c8cc6"/>
<rect x="722.00" y="237.00" width="10.53" height="4.85" fill="#df452e"/>
<rect x="732.48" y="237.00" width="10.53" height="4.85" fill="#4170b4"/>
<rect x="742.96" y="237.00" width="10.53" height="4.85" fill="#e6f2e0"/>
<rect x="753.44" y="237.00" width="10.53" height="4.85" fill="#d6eaf2"/>
<rect x="763.92" y="237.00" width="10.53" height="4.85" fill="#4170b4"/>
<rect x="722.00" y="243.60" width="10.53" height="4.90" fill="#fdf4b4"/>
<rect x="732.48" y="243.60" width="10.53" height="4.90" fill="#fde79c"/>
<rect x="742.96" y="243.60" width="10.53" height="4.90" fill="#f0f5c8"/>
<rect x="753.44" y="243.60" width="10.53" height="4.90" fill="#f0f5c8"/>
<rect x="763.92" y="243.60" width="10.53" height="4.90" fill="#4170b4"/>
<rect x="722.00" y="248.45" width="10.53" height="4.90" fill="#fdf4b4"/>
<rect x="732.48" y="248.45" width="10.53" height="4.90" fill="#f0f5c8"/>
<rect x="742.96" y="248.45" width="10.53" height="4.90" fill="#fde79c"/>
<rect x="753.44" y="248.45" width="10.53" height="4.90" fill="#e6f2e0"/>
<rect x="763.92" y="248.45" width="10.53" height="4.90" fill="#4170b4"/>
<rect x="722.00" y="255.10" width="10.53" height="4.75" fill="#e6f2e0"/>
<rect x="732.48" y="255.10" width="10.53" height="4.75" fill="#fdc685"/>
<rect x="742.96" y="255.10" width="10.53" height="4.75" fill="#fde79c"/>
<rect x="753.44" y="255.10" width="10.53" height="4.75" fill="#abd3e9"/>
<rect x="763.92" y="255.10" width="10.53" height="4.75" fill="#4170b4"/>
<rect x="722.00" y="259.80" width="10.53" height="4.75" fill="#fdf4b4"/>
<rect x="732.48" y="259.80" width="10.53" height="4.75" fill="#f0f5c8"/>
<rect x="742.96" y="259.80" width="10.53" height="4.75" fill="#fde79c"/>
<rect x="753.44" y="259.80" width="10.53" height="4.75" fill="#d6eaf2"/>
<rect x="763.92" y="259.80" width="10.53" height="4.75" fill="#4170b4"/>
<rect x="722.00" y="265.40" width="10.53" height="5.05" fill="#4170b4"/>
<rect x="732.48" y="265.40" width="10.53" height="5.05" fill="#d6eaf2"/>
<rect x="742.96" y="265.40" width="10.53" height="5.05" fill="#d6eaf2"/>
<rect x="753.44" y="265.40" width="10.53" height="5.05" fill="#fdc685"/>
<rect x="763.92" y="265.40" width="10.53" height="5.05" fill="#fdf4b4"/>
<rect x="496.70" y="287.50" width="10.37" height="3.65" fill="#4170b4"/>
<rect x="507.02" y="287.50" width="10.37" height="3.65" fill="#d6eaf2"/>
<rect x="517.34" y="287.50" width="10.37" height="3.65" fill="#d6eaf2"/>
<rect x="527.66" y="287.50" width="10.37" height="3.65" fill="#fdc685"/>
<rect x="537.98" y="287.50" width="10.37" height="3.65" fill="#fdf4b4"/>
<circle cx="505.3" cy="298.7" r="2.2" fill="#f8b172"/>
<text class="g" x="508.7" y="300.9" font-size="7.9" textLength="29.3" lengthAdjust="spacingAndGlyphs">LPCAT1</text>
<rect x="641.80" y="286.40" width="10.47" height="4.70" fill="#4170b4"/>
<rect x="652.22" y="286.40" width="10.47" height="4.70" fill="#fdf4b4"/>
<rect x="662.64" y="286.40" width="10.47" height="4.70" fill="#fdf4b4"/>
<rect x="673.06" y="286.40" width="10.47" height="4.70" fill="#fde79c"/>
<rect x="683.48" y="286.40" width="10.47" height="4.70" fill="#4170b4"/>
<rect x="641.80" y="291.05" width="10.47" height="4.70" fill="#4170b4"/>
<rect x="652.22" y="291.05" width="10.47" height="4.70" fill="#abd3e9"/>
<rect x="662.64" y="291.05" width="10.47" height="4.70" fill="#fdc685"/>
<rect x="673.06" y="291.05" width="10.47" height="4.70" fill="#fdc685"/>
<rect x="683.48" y="291.05" width="10.47" height="4.70" fill="#4170b4"/>
<circle cx="642.7" cy="301.8" r="2.2" fill="#f8b172"/>
<text class="g" x="646.1" y="304.4" font-size="7.9" textLength="19.4" lengthAdjust="spacingAndGlyphs">PLA2</text>
<circle cx="569.5" cy="343.9" r="2.2" fill="#f8b172"/>
<text class="g" x="573.6" y="346.2" font-size="7.9" textLength="23.7" lengthAdjust="spacingAndGlyphs">FAH12</text>
<rect x="558.90" y="348.90" width="10.45" height="4.55" fill="#4170b4"/>
<rect x="569.30" y="348.90" width="10.45" height="4.55" fill="#f0f5c8"/>
<rect x="579.70" y="348.90" width="10.45" height="4.55" fill="#e6f2e0"/>
<rect x="590.10" y="348.90" width="10.45" height="4.55" fill="#fdf4b4"/>
<rect x="600.50" y="348.90" width="10.45" height="4.55" fill="#fde79c"/>
<circle cx="687.4" cy="339.2" r="2.3" fill="#f8b172"/>
<text class="g" x="691.9" y="341.6" font-size="7.9" textLength="29.8" lengthAdjust="spacingAndGlyphs">LPAAT2</text>
<rect x="692.30" y="343.10" width="10.45" height="4.85" fill="#4170b4"/>
<rect x="702.70" y="343.10" width="10.45" height="4.85" fill="#fdf4b4"/>
<rect x="713.10" y="343.10" width="10.45" height="4.85" fill="#fdf4b4"/>
<rect x="723.50" y="343.10" width="10.45" height="4.85" fill="#fdc685"/>
<rect x="733.90" y="343.10" width="10.45" height="4.85" fill="#74a5d1"/>
<circle cx="687.4" cy="352.5" r="2.3" fill="#f8b172"/>
<text class="g" x="690.7" y="355.0" font-size="7.9" textLength="29.8" lengthAdjust="spacingAndGlyphs">LPAAT4</text>
<rect x="692.30" y="358.30" width="10.45" height="4.25" fill="#4170b4"/>
<rect x="702.70" y="358.30" width="10.45" height="4.25" fill="#fdc685"/>
<rect x="713.10" y="358.30" width="10.45" height="4.25" fill="#e6f2e0"/>
<rect x="723.50" y="358.30" width="10.45" height="4.25" fill="#4170b4"/>
<rect x="733.90" y="358.30" width="10.45" height="4.25" fill="#fde79c"/>
<circle cx="668.2" cy="401.3" r="2.3" fill="#f8b172"/>
<text class="g" x="672.2" y="403.7" font-size="7.9" textLength="19.9" lengthAdjust="spacingAndGlyphs">PLC2</text>
<rect x="694.00" y="398.50" width="10.47" height="4.95" fill="#df452e"/>
<rect x="704.42" y="398.50" width="10.47" height="4.95" fill="#4170b4"/>
<rect x="714.84" y="398.50" width="10.47" height="4.95" fill="#abd3e9"/>
<rect x="725.26" y="398.50" width="10.47" height="4.95" fill="#74a5d1"/>
<rect x="735.68" y="398.50" width="10.47" height="4.95" fill="#abd3e9"/>
<circle cx="668.2" cy="413.6" r="2.3" fill="#f8b172"/>
<text class="g" x="674.4" y="416.0" font-size="7.9" textLength="14.6" lengthAdjust="spacingAndGlyphs">PLD</text>
<rect x="694.00" y="411.30" width="10.47" height="4.65" fill="#fde79c"/>
<rect x="704.42" y="411.30" width="10.47" height="4.65" fill="#fdf4b4"/>
<rect x="714.84" y="411.30" width="10.47" height="4.65" fill="#fdf4b4"/>
<rect x="725.26" y="411.30" width="10.47" height="4.65" fill="#e6f2e0"/>
<rect x="735.68" y="411.30" width="10.47" height="4.65" fill="#4170b4"/>
<rect x="694.00" y="415.90" width="10.47" height="4.65" fill="#4170b4"/>
<rect x="704.42" y="415.90" width="10.47" height="4.65" fill="#fdf4b4"/>
<rect x="714.84" y="415.90" width="10.47" height="4.65" fill="#fdc685"/>
<rect x="725.26" y="415.90" width="10.47" height="4.65" fill="#fdc685"/>
<rect x="735.68" y="415.90" width="10.47" height="4.65" fill="#4170b4"/>
<rect x="694.00" y="420.50" width="10.47" height="4.65" fill="#4170b4"/>
<rect x="704.42" y="420.50" width="10.47" height="4.65" fill="#fdf4b4"/>
<rect x="714.84" y="420.50" width="10.47" height="4.65" fill="#fdf4b4"/>
<rect x="725.26" y="420.50" width="10.47" height="4.65" fill="#fdf4b4"/>
<rect x="735.68" y="420.50" width="10.47" height="4.65" fill="#fdf4b4"/>
<rect x="694.00" y="425.10" width="10.47" height="4.65" fill="#4170b4"/>
<rect x="704.42" y="425.10" width="10.47" height="4.65" fill="#fdc685"/>
<rect x="714.84" y="425.10" width="10.47" height="4.65" fill="#fdf4b4"/>
<rect x="725.26" y="425.10" width="10.47" height="4.65" fill="#fde79c"/>
<rect x="735.68" y="425.10" width="10.47" height="4.65" fill="#4170b4"/>
<rect x="694.00" y="429.70" width="10.47" height="4.65" fill="#fdc685"/>
<rect x="704.42" y="429.70" width="10.47" height="4.65" fill="#fdf4b4"/>
<rect x="714.84" y="429.70" width="10.47" height="4.65" fill="#4170b4"/>
<rect x="725.26" y="429.70" width="10.47" height="4.65" fill="#fde79c"/>
<rect x="735.68" y="429.70" width="10.47" height="4.65" fill="#4170b4"/>
<rect x="694.00" y="434.30" width="10.47" height="4.65" fill="#f26d43"/>
<rect x="704.42" y="434.30" width="10.47" height="4.65" fill="#abd3e9"/>
<rect x="714.84" y="434.30" width="10.47" height="4.65" fill="#5c8cc6"/>
<rect x="725.26" y="434.30" width="10.47" height="4.65" fill="#fde79c"/>
<rect x="735.68" y="434.30" width="10.47" height="4.65" fill="#4170b4"/>
<circle cx="554.4" cy="414.0" r="2.3" fill="#f8b172"/>
<text class="g" x="559.8" y="416.5" font-size="7.9" textLength="25.0" lengthAdjust="spacingAndGlyphs">PDCT1</text>
<rect x="589.00" y="412.50" width="10.49" height="4.45" fill="#f26d43"/>
<rect x="599.44" y="412.50" width="10.49" height="4.45" fill="#4170b4"/>
<rect x="609.88" y="412.50" width="10.49" height="4.45" fill="#e6f2e0"/>
<rect x="620.32" y="412.50" width="10.49" height="4.45" fill="#74a5d1"/>
<rect x="630.76" y="412.50" width="10.49" height="4.45" fill="#d6eaf2"/>
<circle cx="554.4" cy="427.5" r="2.3" fill="#f8b172"/>
<text class="g" x="559.8" y="430.0" font-size="7.9" textLength="24.0" lengthAdjust="spacingAndGlyphs">PDAT1</text>
<rect x="589.00" y="424.60" width="10.49" height="4.65" fill="#4170b4"/>
<rect x="599.44" y="424.60" width="10.49" height="4.65" fill="#e6f2e0"/>
<rect x="609.88" y="424.60" width="10.49" height="4.65" fill="#e6f2e0"/>
<rect x="620.32" y="424.60" width="10.49" height="4.65" fill="#fdf4b4"/>
<rect x="630.76" y="424.60" width="10.49" height="4.65" fill="#fdc685"/>
<rect x="589.00" y="429.20" width="10.49" height="4.65" fill="#fdc685"/>
<rect x="599.44" y="429.20" width="10.49" height="4.65" fill="#f0f5c8"/>
<rect x="609.88" y="429.20" width="10.49" height="4.65" fill="#f0f5c8"/>
<rect x="620.32" y="429.20" width="10.49" height="4.65" fill="#d6eaf2"/>
<rect x="630.76" y="429.20" width="10.49" height="4.65" fill="#4170b4"/>
<circle cx="554.4" cy="446.3" r="2.3" fill="#f8b172"/>
<text class="g" x="559.8" y="448.8" font-size="7.9" textLength="25.0" lengthAdjust="spacingAndGlyphs">PDAT2</text>
<rect x="589.00" y="444.80" width="10.49" height="4.45" fill="#4170b4"/>
<rect x="599.44" y="444.80" width="10.49" height="4.45" fill="#e6f2e0"/>
<rect x="609.88" y="444.80" width="10.49" height="4.45" fill="#f0f5c8"/>
<rect x="620.32" y="444.80" width="10.49" height="4.45" fill="#fde79c"/>
<rect x="630.76" y="444.80" width="10.49" height="4.45" fill="#fdf4b4"/>
<circle cx="685.2" cy="483.3" r="2.3" fill="#f8b172"/>
<text class="g" x="690.0" y="485.8" font-size="7.9" textLength="26.0" lengthAdjust="spacingAndGlyphs">DGAT1</text>
<circle cx="685.2" cy="492.4" r="2.3" fill="#f8b172"/>
<text class="g" x="690.0" y="494.9" font-size="7.9" textLength="26.0" lengthAdjust="spacingAndGlyphs">DGAT2</text>
<circle cx="685.2" cy="501.2" r="2.3" fill="#f8b172"/>
<text class="g" x="690.0" y="503.7" font-size="7.9" textLength="26.0" lengthAdjust="spacingAndGlyphs">DGAT3</text>
<rect x="719.30" y="481.00" width="10.41" height="4.65" fill="#d6eaf2"/>
<rect x="729.66" y="481.00" width="10.41" height="4.65" fill="#fdf4b4"/>
<rect x="740.02" y="481.00" width="10.41" height="4.65" fill="#fdd690"/>
<rect x="750.38" y="481.00" width="10.41" height="4.65" fill="#f0f5c8"/>
<rect x="760.74" y="481.00" width="10.41" height="4.65" fill="#4170b4"/>
<rect x="719.30" y="490.10" width="10.41" height="4.65" fill="#4170b4"/>
<rect x="729.66" y="490.10" width="10.41" height="4.65" fill="#74a5d1"/>
<rect x="740.02" y="490.10" width="10.41" height="4.65" fill="#abd3e9"/>
<rect x="750.38" y="490.10" width="10.41" height="4.65" fill="#fbb06a"/>
<rect x="760.74" y="490.10" width="10.41" height="4.65" fill="#fde79c"/>
<rect x="719.30" y="499.20" width="10.41" height="4.65" fill="#fbb06a"/>
<rect x="729.66" y="499.20" width="10.41" height="4.65" fill="#d6eaf2"/>
<rect x="740.02" y="499.20" width="10.41" height="4.65" fill="#f0f5c8"/>
<rect x="750.38" y="499.20" width="10.41" height="4.65" fill="#f0f5c8"/>
<rect x="760.74" y="499.20" width="10.41" height="4.65" fill="#4170b4"/>
<path d="M548.8 517.4 L551.7 522.6 L545.9 522.6 Z" fill="#1f78f4"/>
<text class="g" x="553.0" y="522.8" font-size="7.9" textLength="16.2" lengthAdjust="spacingAndGlyphs">PXG</text>
<rect x="574.70" y="518.30" width="10.41" height="4.35" fill="#4170b4"/>
<rect x="585.06" y="518.30" width="10.41" height="4.35" fill="#e6f2e0"/>
<rect x="595.42" y="518.30" width="10.41" height="4.35" fill="#d6eaf2"/>
<rect x="605.78" y="518.30" width="10.41" height="4.35" fill="#fdf4b4"/>
<rect x="616.14" y="518.30" width="10.41" height="4.35" fill="#fbb06a"/>
<path d="M548.8 526.8 L551.7 532.0 L545.9 532.0 Z" fill="#1f78f4"/>
<text class="g" x="553.0" y="532.2" font-size="7.9" textLength="20.4" lengthAdjust="spacingAndGlyphs">PXG4</text>
<rect x="574.70" y="527.70" width="10.41" height="4.65" fill="#4170b4"/>
<rect x="585.06" y="527.70" width="10.41" height="4.65" fill="#fde79c"/>
<rect x="595.42" y="527.70" width="10.41" height="4.65" fill="#fdf4b4"/>
<rect x="605.78" y="527.70" width="10.41" height="4.65" fill="#fdf4b4"/>
<rect x="616.14" y="527.70" width="10.41" height="4.65" fill="#e6f2e0"/>
<path d="M665.8 518.1 L668.7 523.3 L662.9 523.3 Z" fill="#1f78f4"/>
<text class="g" x="669.0" y="523.5" font-size="7.9" textLength="19.5" lengthAdjust="spacingAndGlyphs">OLE1</text>
<rect x="691.40" y="515.80" width="10.41" height="4.90" fill="#4170b4"/>
<rect x="701.76" y="515.80" width="10.41" height="4.90" fill="#e6f2e0"/>
<rect x="712.12" y="515.80" width="10.41" height="4.90" fill="#e6f2e0"/>
<rect x="722.48" y="515.80" width="10.41" height="4.90" fill="#fdf4b4"/>
<rect x="732.84" y="515.80" width="10.41" height="4.90" fill="#fdd690"/>
<rect x="691.40" y="520.65" width="10.41" height="4.90" fill="#4170b4"/>
<rect x="701.76" y="520.65" width="10.41" height="4.90" fill="#e6f2e0"/>
<rect x="712.12" y="520.65" width="10.41" height="4.90" fill="#e6f2e0"/>
<rect x="722.48" y="520.65" width="10.41" height="4.90" fill="#fdf4b4"/>
<rect x="732.84" y="520.65" width="10.41" height="4.90" fill="#fdd690"/>
<path d="M665.8 529.1 L668.7 534.3 L662.9 534.3 Z" fill="#1f78f4"/>
<text class="g" x="669.0" y="534.5" font-size="7.9" textLength="16.9" lengthAdjust="spacingAndGlyphs">OLE</text>
<rect x="691.40" y="527.10" width="10.41" height="4.75" fill="#4170b4"/>
<rect x="701.76" y="527.10" width="10.41" height="4.75" fill="#f0f5c8"/>
<rect x="712.12" y="527.10" width="10.41" height="4.75" fill="#fdf4b4"/>
<rect x="722.48" y="527.10" width="10.41" height="4.75" fill="#fdf4b4"/>
<rect x="732.84" y="527.10" width="10.41" height="4.75" fill="#fde79c"/>
<rect x="691.40" y="531.80" width="10.41" height="4.75" fill="#4170b4"/>
<rect x="701.76" y="531.80" width="10.41" height="4.75" fill="#f0f5c8"/>
<rect x="712.12" y="531.80" width="10.41" height="4.75" fill="#fdf4b4"/>
<rect x="722.48" y="531.80" width="10.41" height="4.75" fill="#fdf4b4"/>
<rect x="732.84" y="531.80" width="10.41" height="4.75" fill="#fde79c"/>
<circle cx="15.6" cy="524.4" r="4" fill="#f9b36b"/>
<path d="M15.6 536.3L20 544.6H11.2Z" fill="#1f78ff"/>
<rect x="11.6" y="554.5" width="8" height="7.2" fill="#f0569a"/>
<text x="27.4" y="527.6" font-size="9.9" fill="#111" textLength="41.3" lengthAdjust="spacingAndGlyphs">Enzymes</text>
<text x="27.4" y="543.7" font-size="9.9" fill="#111" textLength="83.3" lengthAdjust="spacingAndGlyphs">Structural Proteins</text>
<text x="28" y="559.5" font-size="9.9" fill="#111" textLength="16.5" lengthAdjust="spacingAndGlyphs">TFs</text>
</svg>
</body></html>
